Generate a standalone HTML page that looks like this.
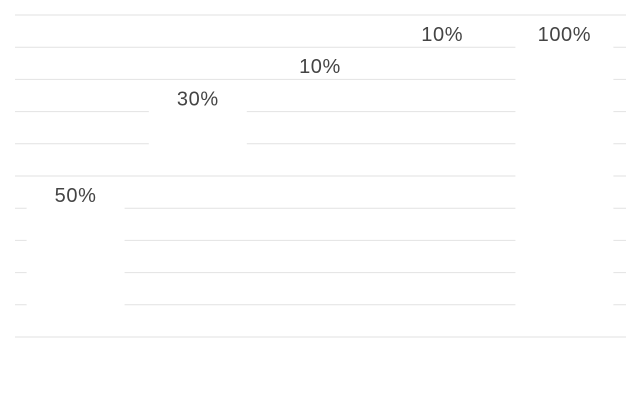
<!DOCTYPE html>
<html><head><meta charset="utf-8"><style>
html,body{margin:0;padding:0;background:#fff;}
svg{display:block;}
text{font-family:"Liberation Sans",sans-serif;font-size:20px;letter-spacing:0.6px;fill:#444;}
</style></head><body>
<svg id="chart" width="641" height="402" xmlns="http://www.w3.org/2000/svg"></svg>
<script>
const categories = ["A", "B", "C", "D", "Total"];
const deltas = [50, 30, 10, 10, 100];
const isTotal = [false, false, false, false, true];
const labels = ["50%", "30%", "10%", "10%", "100%"];
const gridTicks = [0,10,20,30,40,50,60,70,80,90,100];

const NS = "http://www.w3.org/2000/svg";
const svg = document.getElementById("chart");
const x0 = 15, x1 = 626, yBase = 337, yTop = 15;
const y = v => yBase - (v / 100) * (yBase - yTop);
const band = (x1 - x0) / categories.length;
const barW = 98;
const bx = i => x0 + band * i + (band - barW) / 2 - 0.5;

const grid = document.createElementNS(NS, "g");


svg.appendChild(grid);
gridTicks.forEach(t => {
  const l = document.createElementNS(NS, "line");
  
  
  l.setAttribute("x1", x0); l.setAttribute("x2", x1);
  l.setAttribute("y1", y(t)); l.setAttribute("y2", y(t));
  l.setAttribute("stroke", "#e2e2e2"); l.setAttribute("stroke-width", "1");
  grid.appendChild(l);
});

let run = 0;
categories.forEach((c, i) => {
  let lo, hi;
  if (isTotal[i]) { lo = 0; hi = deltas[i]; }
  else { lo = run; hi = run + deltas[i]; run = hi; }
  const r = document.createElementNS(NS, "rect");
  
  
  r.setAttribute("x", bx(i));
  r.setAttribute("y", y(hi) + 1);
  r.setAttribute("width", barW);
  r.setAttribute("height", Math.max(0, y(lo) - y(hi) - 2));
  r.setAttribute("fill", "#ffffff");
  svg.appendChild(r);
  const t = document.createElementNS(NS, "text");
  
  
  t.setAttribute("x", bx(i) + barW / 2);
  t.setAttribute("y", y(hi) + 26);
  t.setAttribute("text-anchor", "middle");
  t.textContent = labels[i];
  svg.appendChild(t);
});
</script>
</body></html>
